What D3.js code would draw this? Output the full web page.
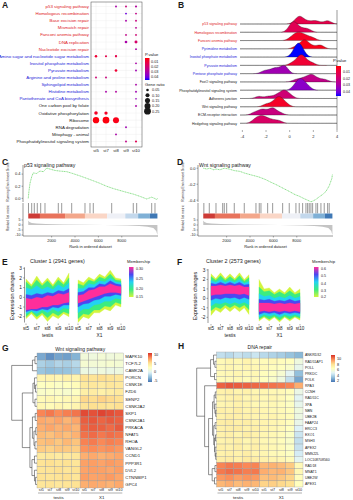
<!DOCTYPE html>
<html>
<head>
<meta charset="utf-8">
<script src="https://cdn.jsdelivr.net/npm/d3@7/dist/d3.min.js"></script>
<style>
  body { margin: 0; background: #fff; }
  svg { display: block; font-family: "Liberation Sans", Arial, sans-serif; }
</style>
</head>
<body>
<div id="fig"></div>
<script>
// ---------------- A: KEGG dot plot ----------------
var stagesA = ["st5", "st7", "st8", "st9", "st10"];
var pathwaysA = ["p53 signaling pathway", "Homologous recombination", "Base excision repair", "Mismatch repair",
  "Fanconi anemia pathway", "DNA replication", "Nucleotide excision repair",
  "Amino sugar and nucleotide sugar metabolism", "Inositol phosphate metabolism", "Pyruvate metabolism",
  "Arginine and proline metabolism", "Sphingolipid metabolism", "Histidine metabolism",
  "Pantothenate and CoA biosynthesis", "One carbon pool by folate", "Oxidative phosphorylation",
  "Ribosome", "RNA degradation", "Mitophagy - animal", "Phosphatidylinositol signaling system"];
var groupA = ["r","r","r","r","r","r","r","b","b","b","b","b","b","b","k","k","k","k","k","k"];
// [pathway index, stage, gene ratio, p value]
var dotsA = [
  [0,"st8",0.03,0.030],[0,"st9",0.03,0.022],[0,"st10",0.035,0.028],
  [1,"st9",0.03,0.040],[1,"st10",0.03,0.024],
  [2,"st9",0.03,0.030],[2,"st10",0.03,0.022],
  [3,"st10",0.03,0.026],
  [4,"st9",0.03,0.024],[4,"st10",0.03,0.020],
  [5,"st9",0.05,0.030],[5,"st10",0.06,0.018],
  [6,"st10",0.03,0.030],
  [7,"st5",0.045,0.008],[7,"st7",0.035,0.012],[7,"st8",0.04,0.012],
  [8,"st10",0.03,0.030],
  [9,"st8",0.05,0.008],[9,"st10",0.03,0.032],
  [10,"st5",0.03,0.020],[10,"st7",0.03,0.022],
  [11,"st10",0.03,0.030],
  [12,"st7",0.03,0.030],[12,"st8",0.03,0.028],[12,"st10",0.03,0.032],
  [13,"st10",0.025,0.034],
  [14,"st10",0.03,0.030],
  [15,"st5",0.08,0.006],[15,"st7",0.07,0.006],
  [16,"st5",0.22,0.003],[16,"st7",0.24,0.003],[16,"st8",0.20,0.004],
  [17,"st9",0.03,0.032],
  [18,"st8",0.03,0.030],
  [19,"st9",0.03,0.024],[19,"st10",0.035,0.014]
];
var pTicks = [0.01, 0.02, 0.03, 0.04];
var ratioTicks = [0.05, 0.10, 0.15, 0.20, 0.25];

// ---------------- B: ridge plot ----------------
var pathwaysB = ["p53 signaling pathway", "Homologous recombination", "Fanconi anemia pathway",
  "Pyrimidine metabolism", "Inositol phosphate metabolism", "Pyruvate metabolism", "Pentose phosphate pathway",
  "FoxO signaling pathway", "Phosphatidylinositol signaling system", "Adherens junction",
  "Wnt signaling pathway", "ECM-receptor interaction", "Hedgehog signaling pathway"];
var groupB = ["r","r","r","b","b","b","b","k","k","k","k","k","k"];
var pvalB = [0.012, 0.014, 0.006, 0.004, 0.046, 0.008, 0.032, 0.024, 0.036, 0.020, 0.006, 0.022, 0.017];
var foldB = [
  [0.5,0.7,0.8,0.9,1.0,1.3,1.7,2.1,2.4,3.1,3.3],
  [0.0,0.2,0.3,0.4,0.5,0.8,1.2,1.6],
  [0.1,0.4,0.6,0.7,0.9,1.1,1.3,1.6,2.0],
  [0.5,0.9,1.1,1.2,1.3,1.4,1.6,2.0,2.5,2.7],
  [0.3,0.5,0.6,0.7,0.75,0.8,0.9,1.0,1.2],
  [0.2,0.6,0.8,0.9,1.0,1.1,1.2,1.5,1.9],
  [-2.2,-1.8,-1.4,-1.2,-1.0,-0.6,-0.5,-0.4,-0.3],
  [0.5,1.0,1.3,1.6,1.8,1.9,2.1,2.5,3.0],
  [0.4,0.6,0.8,0.9,1.0,1.1,1.3,1.6],
  [-2.6,-1.8,-1.2,-0.9,-0.6,-0.5,-0.4,-0.2,0.1],
  [-2.0,-1.5,-1.2,-1.0,-0.9,-0.8,-0.6,-0.3],
  [-3.0,-2.6,-2.3,-2.2,-1.8,-1.5,-1.4,-1.3,-0.8],
  [-3.0,-2.7,-2.5,-2.3,-2.1,-1.8,-1.4,-0.9]
];
var foldTicks = [-4, -2, 0, 2, 4];

// ---------------- C / D: GSEA ----------------
var rankTicks = [2000, 4000, 6000, 8000];
var p53Rank = [0,60,150,300,430,700,1000,1300,1580,1900,2290,2700,3290,3800,4430,5000,5560,6100,6700,7300,7850,8400,8990,9600,10130,10560,10800,10990,11050];
var p53ES   = [0,0.12,0.25,0.36,0.42,0.41,0.45,0.44,0.50,0.48,0.46,0.45,0.44,0.41,0.37,0.33,0.29,0.25,0.20,0.16,0.13,0.10,0.07,0.03,-0.01,0.02,0.0,-0.02,0];
var p53Hits = [20,294,517,773,1064,1432,2570,2860,3716,4854,5281,5564,7138,8985,9276,10560,10842];
var wntRank = [0,300,576,900,1089,1432,1800,2202,2654,3143,3509,4000,4768,5300,5709,6300,6821,7356,7848,8211,8618,8929,9212,9388,9639,9901,10200,10500,10776,11000,11050];
var wntES   = [0,-0.01,0.0,-0.02,-0.01,-0.02,0.0,-0.01,-0.03,-0.04,-0.06,-0.08,-0.11,-0.14,-0.17,-0.21,-0.25,-0.29,-0.33,-0.35,-0.38,-0.40,-0.42,-0.41,-0.39,-0.36,-0.33,-0.29,-0.22,-0.13,-0.08];
var wntHits = [50,516,1089,1662,1799,2004,2654,3509,4509,4791,4937,5509,5937,6792,7356,7929,8211,8502,8784,8929,9066,9212,9357,9639,9784,10067,10349,10639,10776];
var metricRank  = [0,100,300,700,1500,3000,5000,6500,7500,8500,9500,10200,10700,10950,11050];
var metricValue = [4.5,3.0,2.0,1.5,1.0,0.6,0.2,0.0,-0.2,-0.5,-1.0,-1.8,-3.0,-6.0,-10.0];
var metricTicks = [5, 0, -5, -10];
var barBreaks = [0, 1000, 3150, 4850, 6750, 8300, 9400, 10400, 11050];
var barColors = ["#cd3b36","#e8735c","#f3a78b","#fad6c6","#eef0f6","#c3d8ec","#7fb0d6","#3f78b5"];

// ---------------- E / F: membership bands (outer -> inner) ----------------
var stageLabels = ["st5", "st7", "st8", "st9", "st10"];
var memberColors = ["#d2f53c", "#3cec80", "#22d3f2", "#4b47f2", "#ff2e9a"];
var c1TestisUp = [
  [1.9,1.3,2.2,1.4,2.0,1.3,2.1,1.5,2.5],
  [1.6,1.1,1.8,1.2,1.7,1.1,1.8,1.3,2.0],
  [1.0,0.8,1.2,0.8,1.1,0.8,1.3,1.0,1.5],
  [0.3,0.2,0.4,0.3,0.5,0.4,0.7,0.6,0.9],
  [-0.1,-0.2,0.0,-0.1,0.2,0.1,0.4,0.3,0.5]];
var c1TestisLo = [
  [-2.2,-1.7,-2.3,-1.8,-2.5,-1.9,-2.2,-1.7,-2.0],
  [-2.0,-1.5,-2.0,-1.6,-2.1,-1.6,-1.9,-1.5,-1.7],
  [-1.7,-1.4,-1.7,-1.3,-1.6,-1.2,-1.5,-1.1,-1.2],
  [-1.5,-1.3,-1.4,-1.2,-1.3,-1.0,-1.1,-0.8,-0.8],
  [-1.3,-1.2,-1.2,-1.0,-1.0,-0.8,-0.8,-0.6,-0.5]];
var c1X1Up = [
  [1.8,1.5,2.1,1.8,2.4,2.1,2.8,2.0,1.9],
  [1.4,1.2,1.8,1.6,2.1,1.9,2.4,1.8,1.7],
  [0.9,0.9,1.4,1.3,1.7,1.6,2.0,1.6,1.5],
  [0.5,0.6,1.0,1.0,1.4,1.3,1.7,1.4,1.3],
  [0.2,0.3,0.7,0.8,1.1,1.1,1.4,1.2,1.1]];
var c1X1Lo = [
  [-2.6,-2.0,-2.2,-1.6,-1.6,-1.2,-1.4,-0.8,-1.0],
  [-2.2,-1.7,-1.8,-1.3,-1.3,-0.9,-1.0,-0.5,-0.7],
  [-1.6,-1.2,-1.2,-0.8,-0.7,-0.4,-0.4,-0.1,-0.2],
  [-1.0,-0.7,-0.6,-0.3,-0.2,0.1,0.1,0.3,0.2],
  [-0.6,-0.4,-0.2,0.0,0.2,0.4,0.5,0.5,0.4]];
var c2TestisUp = [
  [2.6,2.1,2.7,2.1,2.6,2.1,2.7,2.0,2.5],
  [2.3,1.9,2.4,1.9,2.3,1.9,2.4,1.8,2.2],
  [1.9,1.7,2.0,1.7,1.9,1.7,2.0,1.6,1.8],
  [1.6,1.5,1.7,1.5,1.7,1.5,1.7,1.4,1.5],
  [1.3,1.3,1.4,1.3,1.4,1.3,1.4,1.2,1.2]];
var c2TestisLo = [
  [-1.8,-1.2,-1.5,-1.0,-1.4,-1.0,-1.4,-1.0,-1.7],
  [-1.3,-0.9,-1.1,-0.7,-1.0,-0.7,-1.0,-0.7,-1.2],
  [-0.8,-0.5,-0.6,-0.4,-0.6,-0.4,-0.6,-0.4,-0.7],
  [-0.2,0.0,-0.1,0.1,0.0,0.1,-0.1,0.1,-0.1],
  [0.3,0.4,0.4,0.5,0.5,0.5,0.4,0.5,0.3]];
var c2X1Up = [
  [2.0,1.0,1.1,0.6,1.0,0.6,1.2,0.6,1.0],
  [1.2,0.7,0.8,0.4,0.7,0.4,0.8,0.4,0.6],
  [0.5,0.2,0.3,0.0,0.2,0.0,0.3,0.0,0.2],
  [-0.1,-0.2,-0.1,-0.3,-0.2,-0.3,-0.1,-0.3,-0.2],
  [-0.5,-0.5,-0.5,-0.6,-0.5,-0.6,-0.5,-0.6,-0.5]];
var c2X1Lo = [
  [-2.4,-2.0,-2.4,-2.0,-2.5,-2.0,-2.4,-2.0,-2.3],
  [-2.2,-1.9,-2.2,-1.9,-2.3,-1.9,-2.2,-1.9,-2.1],
  [-2.0,-1.7,-1.9,-1.7,-2.0,-1.7,-1.9,-1.7,-1.9],
  [-1.7,-1.5,-1.6,-1.5,-1.7,-1.5,-1.6,-1.5,-1.6],
  [-1.4,-1.3,-1.4,-1.3,-1.4,-1.3,-1.4,-1.3,-1.4]];
var exprTicks = [3, 2, 1, 0, -1, -2];

// ---------------- G / H: heatmaps ----------------
var wntGenes = ["MAPK10","TCF7L2","CAMK2A","PORCN","CSNK1E","FZD6","SENP2","CSNK2A2","SKP1","CSNK2A1",
  "PRKACA","NFAT5","RHOA","VANGL2","CCND1","PPP3R1","DVL2","CTNNBIP1","GPC4"];
var wntValues = [
  [-4.0,-5.0,-4.2,-4.4,-3.6, 1.2,1.0,1.4,1.1,1.3],
  [-2.2,-2.6,-2.0,-2.3,-1.8, 1.6,1.4,1.5,1.7,1.5],
  [-2.8,-3.2,-3.0,-2.9,-2.4, 0.8,0.6,1.0,0.7,0.9],
  [3.4,3.6,3.3,3.8,3.5, 5.2,5.0,5.4,5.1,4.8],
  [2.4,2.6,2.2,2.5,2.8, 4.4,4.6,4.3,4.7,4.5],
  [2.0,2.2,2.1,1.8,2.3, 4.0,4.2,3.8,4.1,4.4],
  [3.0,3.2,2.8,3.1,3.3, 5.6,5.4,5.8,5.5,5.2],
  [3.2,2.9,3.3,3.0,3.4, 5.0,5.3,5.1,4.9,5.2],
  [8.4,8.8,8.2,8.6,8.9, 10.2,10.0,10.4,10.1,9.8],
  [7.2,7.0,7.4,6.8,7.3, 9.6,9.8,9.4,9.7,9.5],
  [7.0,7.3,6.9,7.2,6.8, 9.4,9.6,9.5,9.2,9.7],
  [6.6,6.4,6.8,6.5,6.9, 9.0,9.2,8.8,9.1,8.9],
  [6.4,6.6,6.2,6.7,6.3, 8.5,8.7,8.3,8.6,8.4],
  [6.0,5.8,6.2,6.1,5.9, 8.0,8.2,7.9,8.1,7.8],
  [4.4,4.6,4.3,4.5,4.7, 7.0,7.2,6.9,7.1,7.3],
  [5.0,5.2,4.9,5.1,4.8, 7.5,7.6,7.4,7.7,7.5],
  [4.9,5.0,5.2,4.8,5.1, 7.4,7.6,7.5,7.3,7.6],
  [5.1,4.9,5.0,5.2,4.8, 7.6,7.4,7.5,7.7,7.3],
  [4.8,5.0,4.7,4.9,5.1, 7.0,7.2,7.1,6.9,7.2]];
// [height, left, right]; leaves are row indexes
var wntTree = [1.0,
  [0.18, [0.08, 0, 1], 2],
  [0.58,
    [0.16, [0.1, 3, [0.06, 4, 5]], [0.08, 6, 7]],
    [0.28,
      [0.18, [0.07, 8, 9], [0.12, [0.05, 10, 11], [0.08, 12, 13]]],
      [0.2, [0.1, 14, 15], [0.1, 16, [0.06, 17, 18]]]]]];
var wntLegend = [10, 5, 0, -5];

var dnaGenes = ["ANKRD32","RAD51AP1","POLL","PRKDC","POLK","RPA3","CCNH","RAD51C","XPA","NBN","UBE2B",
  "FAAP24","ERCC3","EXO1","MSH3","APEX2","MMS22L","LOC108708560","RAD18","MNAT1","UBE2W","APEX1"];
var dnaValues = [
  [4.2,4.0,4.3,4.1,4.4, 4.0,3.8,3.6,3.3,3.0],
  [6.8,7.0,6.9,7.1,6.8, 6.7,6.8,6.6,6.5,5.6],
  [6.9,7.0,6.8,7.0,6.9, 6.8,6.6,6.5,6.2,5.2],
  [6.8,6.9,7.0,6.8,6.9, 6.6,6.4,6.0,5.0,3.2],
  [6.7,6.8,6.9,6.7,6.8, 6.5,6.2,5.6,4.2,2.6],
  [10.6,10.8,10.7,10.6,10.5, 10.4,10.3,10.2,10.0,9.2],
  [7.2,7.3,7.1,7.2,7.0, 7.0,6.9,6.8,6.6,5.4],
  [7.1,7.2,7.3,7.0,7.1, 6.9,7.0,6.8,6.5,5.0],
  [7.0,7.1,7.2,7.1,6.9, 6.8,6.9,6.7,6.4,5.2],
  [7.3,7.2,7.4,7.1,7.2, 7.0,6.9,6.8,6.6,5.6],
  [7.2,7.4,7.3,7.2,7.1, 7.0,7.1,6.9,6.7,5.5],
  [7.4,7.5,7.3,7.4,7.2, 7.1,7.0,6.9,6.6,5.3],
  [7.3,7.4,7.5,7.2,7.3, 7.1,7.0,6.8,6.5,4.8],
  [7.2,7.3,7.1,7.4,7.2, 7.0,6.9,6.7,6.3,4.4],
  [7.1,7.2,7.3,7.0,7.2, 6.9,6.8,6.6,6.2,4.2],
  [7.3,7.2,7.4,7.1,7.3, 7.0,6.9,6.7,6.3,4.3],
  [7.2,7.3,7.2,7.4,7.1, 7.0,6.8,6.7,6.4,4.6],
  [7.4,7.5,7.3,7.6,7.4, 7.2,7.1,7.0,6.7,5.0],
  [10.0,10.2,10.1,9.9,10.0, 9.0,9.1,8.9,8.6,6.8],
  [10.2,10.4,10.3,10.1,10.2, 9.2,9.0,9.1,8.7,6.9],
  [9.6,9.8,9.5,9.7,9.6, 8.8,8.9,8.7,8.4,6.6],
  [9.0,9.2,8.9,9.1,9.0, 8.4,8.5,8.3,8.1,6.5]];
var dnaTree = [1.0,
  [0.3, [0.15, 0, [0.08, 1, 2]], [0.1, 3, 4]],
  [0.6, 5,
    [0.4,
      [0.2, [0.12, [0.06, 6, 7], [0.08, 8, [0.04, 9, 10]]],
            [0.14, [0.07, 11, 12], [0.1, [0.05, 13, 14], [0.07, 15, [0.04, 16, 17]]]]],
      [0.22, [0.08, 18, 19], [0.1, 20, 21]]]]];
var dnaLegend = [10, 8, 6, 4, 2];
var groupsGH = ["testis", "X1"];

// ================= drawing =================
var svg = d3.select("#fig").append("svg").attr("width", 353).attr("height", 500);
var defs = svg.append("defs");
var ink = "#1a1a1a";
var groupColor = {r: "#e0201e", b: "#2424d8", k: ink};

function text(x, y, s, size, opt) {
  opt = opt || {};
  var t = svg.append("text").attr("x", x).attr("y", y).text(s)
    .attr("font-size", size)
    .attr("text-anchor", opt.anchor || "start")
    .attr("fill", opt.fill || ink);
  if (opt.bold) t.attr("font-weight", "bold");
  if (opt.rotate) t.attr("transform", "rotate(-90," + x + "," + y + ")");
  return t;
}
function line(x1, y1, x2, y2, c, w) {
  return svg.append("line").attr("x1", x1).attr("y1", y1).attr("x2", x2).attr("y2", y2)
    .attr("stroke", c || ink).attr("stroke-width", w || 0.5);
}
function vGradient(id, stops) {
  var g = defs.append("linearGradient").attr("id", id)
    .attr("x1", 0).attr("y1", 0).attr("x2", 0).attr("y2", 1);
  stops.forEach(function(c, i) {
    g.append("stop").attr("offset", (100 * i / (stops.length - 1)) + "%").attr("stop-color", c);
  });
}

// panel letters
[["A",2,8],["B",178,8],["C",2,165],["D",177,165],["E",2,265],["F",177,265],["G",2,351],["H",178,349]]
  .forEach(function(d) { text(d[1], d[2], d[0], 8.5, {bold: true}); });

// ---------- A ----------
var pScale = d3.scaleLinear().domain([0.002, 0.046]).range(["#ff0000", "#0000ff"]).interpolate(d3.interpolateLab);
var ax = d3.scalePoint().domain(stagesA).range([96, 136]);
var ay = d3.scalePoint().domain(pathwaysA).range([6.5, 141.5]);
var rA = d3.scaleSqrt().domain([0.02, 0.25]).range([0.7, 3.4]);

stagesA.forEach(function(s) { line(ax(s), 2, ax(s), 147, "#ebebeb", 0.4); });
pathwaysA.forEach(function(p, i) {
  line(91, ay(p), 142, ay(p), "#ebebeb", 0.4);
  text(89, ay(p) + 1.5, p, 4.4, {anchor: "end", fill: groupColor[groupA[i]]});
});
svg.append("rect").attr("x", 91).attr("y", 2).attr("width", 51).attr("height", 145)
  .attr("fill", "none").attr("stroke", "#444").attr("stroke-width", 0.5);
svg.append("g").selectAll("circle").data(dotsA).enter().append("circle")
  .attr("cx", function(d) { return ax(d[1]); })
  .attr("cy", function(d) { return ay(pathwaysA[d[0]]); })
  .attr("r", function(d) { return rA(d[2]); })
  .attr("fill", function(d) { return pScale(d[3]); });
stagesA.forEach(function(s) { text(ax(s), 152, s, 4.2, {anchor: "middle"}); });

// A legend
vGradient("gradP", d3.range(0, 1.001, 0.1).map(function(t) { return pScale(0.002 + t * 0.044); }));
var pLeg = d3.scaleLinear().domain([0.002, 0.046]).range([58, 80]);
text(145, 55.5, "P.value", 4.2);
svg.append("rect").attr("x", 145).attr("y", 58).attr("width", 4.5).attr("height", 22).attr("fill", "url(#gradP)");
pTicks.forEach(function(v) { text(151, pLeg(v) + 1.4, v.toFixed(2), 3.8); });
text(145, 86, "Gene ratio", 4.2);
ratioTicks.forEach(function(v, i) {
  svg.append("circle").attr("cx", 147.5).attr("cy", 90 + i * 5.3).attr("r", rA(v)).attr("fill", ink);
  text(152, 91.4 + i * 5.3, v.toFixed(2), 3.8);
});

// ---------- B ----------
var bx = d3.scaleLinear().domain([-4.2, 4.0]).range([240, 337]);
var by = d3.scalePoint().domain(pathwaysB).range([24, 123.3]);
var grid = d3.range(-4.2, 4.0001, 0.05);
function kde(vals, bw) {
  return grid.map(function(x) {
    return d3.mean(vals, function(v) { var u = (x - v) / bw; return Math.exp(-0.5 * u * u); }) / (bw * Math.sqrt(2 * Math.PI));
  });
}
var dens = foldB.map(function(v) { return kde(v, 0.3); });
var dMax = d3.max(dens, function(d) { return d3.max(d); });
var ridgeH = d3.scaleLinear().domain([0, dMax]).range([0, 14]);
pathwaysB.forEach(function(p, i) {
  var base = by(p);
  text(237, base + 1.3, p, 3.5, {anchor: "end", fill: groupColor[groupB[i]]});
  var area = d3.area()
    .x(function(d, j) { return bx(grid[j]); })
    .y0(base)
    .y1(function(d) { return base - ridgeH(d); });
  svg.append("path").datum(dens[i]).attr("d", area)
    .attr("fill", pScale(pvalB[i])).attr("stroke", "#222").attr("stroke-width", 0.35);
});
line(337, 10, 337, 130, "#333", 0.5);
foldTicks.forEach(function(t) {
  line(bx(t), 130, bx(t), 132, "#333", 0.4);
  text(bx(t), 137.5, t, 4, {anchor: "middle"});
});
text(333, 62, "P.value", 4.2);
svg.append("rect").attr("x", 336).attr("y", 66).attr("width", 5).attr("height", 30).attr("fill", "url(#gradP)");
var pLegB = d3.scaleLinear().domain([0.002, 0.046]).range([66, 96]);
pTicks.forEach(function(v) { text(343, pLegB(v) + 1.4, v.toFixed(2), 3.6); });

// ---------- C / D ----------
function gsea(o) {
  var x = d3.scaleLinear().domain([-450, 11100]).range(o.xr);
  var y = d3.scaleLinear().domain(o.esDomain).range([202, 165]);
  var ym = d3.scaleLinear().domain([-10.5, 5.5]).range([235.5, 219.5]);
  text(o.xr[0] + 1, 167, o.title, 5.2);
  // axes
  line(o.xr[0], 165, o.xr[0], 202, "#333", 0.5);
  line(o.xr[0], 203, o.xr[0], 236, "#333", 0.5);
  line(o.xr[0], 236, o.xr[1], 236, "#333", 0.5);
  o.esTicks.forEach(function(t) {
    line(o.xr[0] - 1.5, y(t), o.xr[0], y(t), "#333", 0.4);
    text(o.xr[0] - 2.5, y(t) + 1.4, t.toFixed(1), 4, {anchor: "end"});
  });
  metricTicks.forEach(function(t) {
    line(o.xr[0] - 1.5, ym(t), o.xr[0], ym(t), "#333", 0.4);
    text(o.xr[0] - 2.5, ym(t) + 1.3, t, 3.6, {anchor: "end"});
  });
  rankTicks.forEach(function(t) {
    line(x(t), 236, x(t), 237.5, "#333", 0.4);
    text(x(t), 242, t, 4, {anchor: "middle"});
  });
  text((o.xr[0] + o.xr[1]) / 2, 247.5, "Rank in ordered dataset", 4, {anchor: "middle"});
  text(o.xr[0] - 14, 182, "Running Enrichment Score", 3.3, {anchor: "middle", rotate: true});
  text(o.xr[0] - 14, 218, "Ranked list metric", 3.3, {anchor: "middle", rotate: true});
  // ES curve
  svg.append("path").datum(o.es)
    .attr("d", d3.line().x(function(d, i) { return x(o.rank[i]); }).y(function(d) { return y(d); }))
    .attr("fill", "none").attr("stroke", "#5fd35f").attr("stroke-width", 0.7).attr("stroke-dasharray", "1.2,0.5");
  // hits
  o.hits.forEach(function(h) { line(x(h), 203, x(h), 213.5, "#444", 0.55); });
  // colour bar
  barColors.forEach(function(c, i) {
    svg.append("rect").attr("x", x(barBreaks[i])).attr("y", 213.5)
      .attr("width", x(barBreaks[i + 1]) - x(barBreaks[i])).attr("height", 5).attr("fill", c);
  });
  // ranked metric
  svg.append("path").datum(metricValue)
    .attr("d", d3.area().x(function(d, i) { return x(metricRank[i]); }).y0(ym(0)).y1(function(d) { return ym(d); }))
    .attr("fill", "#c4c4c4");
}
gsea({xr: [23, 158], title: "p53 signaling pathway", esDomain: [-0.06, 0.55], esTicks: [0, 0.2, 0.4],
  rank: p53Rank, es: p53ES, hits: p53Hits});
gsea({xr: [198, 333], title: "Wnt signaling pathway", esDomain: [-0.4225, 0.0400], esTicks: [0, -0.2, -0.4],
  rank: wntRank, es: wntES, hits: wntHits});

// ---------- E / F ----------
vGradient("gradM", memberColors.slice().reverse());
function mfuzz(o) {
  var y = d3.scaleLinear().domain([-2.6, 3.1]).range(o.yr);
  text(o.titleX, 263, o.title, 5.4);
  o.facets.forEach(function(f, k) {
    var x = d3.scaleLinear().domain([0, 8]).range(f.xr);
    f.up.forEach(function(up, l) {
      var lo = f.lo[l];
      svg.append("path").datum(up)
        .attr("d", d3.area().x(function(d, i) { return x(i); })
          .y0(function(d, i) { return y(lo[i]); }).y1(function(d) { return y(d); }))
        .attr("fill", memberColors[l]).attr("stroke", memberColors[l]).attr("stroke-width", 0.3);
    });
    stageLabels.forEach(function(s, i) {
      line(x(i * 2), o.yr[0] + 1, x(i * 2), o.yr[0] + 2.5, "#333", 0.4);
      text(x(i * 2), 329.5, s, 4.6, {anchor: "middle"});
    });
    text((f.xr[0] + f.xr[1]) / 2, 337, groupsGH[k], 4.8, {anchor: "middle"});
  });
  line(o.axisX, o.yr[1], o.axisX, o.yr[0], "#333", 0.5);
  exprTicks.forEach(function(t) {
    line(o.axisX - 1.5, y(t), o.axisX, y(t), "#333", 0.4);
    text(o.axisX - 2.5, y(t) + 1.7, t, 4.8, {anchor: "end"});
  });
  text(o.axisX - 11, 296, "Expression changes", 5.4, {anchor: "middle", rotate: true});
  text(o.legX, 263, "Membership", 4.2);
  svg.append("rect").attr("x", o.legX + 2).attr("y", 267).attr("width", 4.5).attr("height", 30).attr("fill", "url(#gradM)");
  o.legLabels.forEach(function(s, i) {
    text(o.legX + 9, 269.5 + i * 30 / (o.legLabels.length - 1) - (i === o.legLabels.length - 1 ? 1.2 : 0), s, 3.6);
  });
}
mfuzz({title: "Cluster 1   (2941 genes)", titleX: 30, yr: [322.5, 267.3], axisX: 24.5, legX: 127,
  legLabels: ["0.30", "0.25", "0.20", "0.15"],
  facets: [{xr: [26, 69], up: c1TestisUp, lo: c1TestisLo}, {xr: [78, 121], up: c1X1Up, lo: c1X1Lo}]});
mfuzz({title: "Cluster 2   (2573 genes)", titleX: 206, yr: [323, 269], axisX: 208, legX: 312,
  legLabels: ["0.6", "0.5", "0.4", "0.3", "0.2"],
  facets: [{xr: [211, 249], up: c2TestisUp, lo: c2TestisLo}, {xr: [259, 300], up: c2X1Up, lo: c2X1Lo}]});

// ---------- G / H ----------
var heatStops = ["#4575b4", "#91bfdb", "#e0f3f8", "#ffffbf", "#fee090", "#fc8d59", "#d73027"];
function heatmap(o) {
  var colStops = d3.range(heatStops.length).map(function(i) {
    return o.vmin + i * (o.vmax - o.vmin) / (heatStops.length - 1);
  });
  var col = d3.scaleLinear().domain(colStops).range(heatStops);
  var cols = d3.range(10);
  var x = d3.scaleBand().domain(cols).range(o.xr);
  var y = d3.scaleBand().domain(d3.range(o.genes.length)).range(o.yr);
  o.values.forEach(function(row, r) {
    row.forEach(function(v, c) {
      svg.append("rect").attr("x", x(c)).attr("y", y(r)).attr("width", x.bandwidth()).attr("height", y.bandwidth())
        .attr("fill", col(v)).attr("stroke", "#9a9a9a").attr("stroke-width", 0.35);
    });
    text(o.xr[1] + 2, y(r) + y.bandwidth() / 2 + 1.4, o.genes[r], o.labSize);
  });
  text((o.xr[0] + o.xr[1]) / 2, o.titleY, o.title, 5, {anchor: "middle"});
  cols.forEach(function(c) {
    text(x(c) + x.bandwidth() / 2, 491, stageLabels[c % 5], 3.7, {anchor: "middle"});
  });
  groupsGH.forEach(function(g, k) {
    var x0 = x(k * 5), x1 = x(k * 5 + 4) + x.bandwidth();
    line(x0 + 1, 493, x1 - 1, 493, "#333", 0.4);
    text((x0 + x1) / 2, 498.5, g, 4.4, {anchor: "middle"});
  });
  // dendrogram
  var tx = d3.scaleLinear().domain([0, 1]).range([o.xr[0], o.treeRoot]);
  function draw(node) {
    if (typeof node === "number") return {y: y(node) + y.bandwidth() / 2, h: 0};
    var a = draw(node[1]), b = draw(node[2]);
    line(tx(node[0]), a.y, tx(node[0]), b.y, "#222", 0.5);
    line(tx(a.h), a.y, tx(node[0]), a.y, "#222", 0.5);
    line(tx(b.h), b.y, tx(node[0]), b.y, "#222", 0.5);
    return {y: (a.y + b.y) / 2, h: node[0]};
  }
  draw(o.tree);
  // legend
  var gid = "grad" + o.title.replace(/\W/g, "");
  vGradient(gid, d3.range(0, 1.001, 0.05).map(function(t) { return col(o.vmax - t * (o.vmax - o.vmin)); }));
  var ly = d3.scaleLinear().domain([o.vmax, o.vmin]).range(o.legY);
  svg.append("rect").attr("x", o.legX).attr("y", o.legY[0]).attr("width", 4)
    .attr("height", o.legY[1] - o.legY[0]).attr("fill", "url(#" + gid + ")");
  o.legend.forEach(function(v) { text(o.legX + 6, ly(v) + 1.4, v, 3.8); });
}
heatmap({genes: wntGenes, values: wntValues, tree: wntTree, xr: [37, 123.3], yr: [353, 488], treeRoot: 11.7,
  vmin: -6, vmax: 11, title: "Wnt signaling pathway", titleY: 350.5, labSize: 4.3,
  legX: 148, legY: [353, 382], legend: wntLegend});
heatmap({genes: dnaGenes, values: dnaValues, tree: dnaTree, xr: [216.5, 303], yr: [352, 487], treeRoot: 196.7,
  vmin: 1.5, vmax: 11.5, title: "DNA repair", titleY: 349, labSize: 3.5,
  legX: 331, legY: [355, 382], legend: dnaLegend});
</script>
</body>
</html>
